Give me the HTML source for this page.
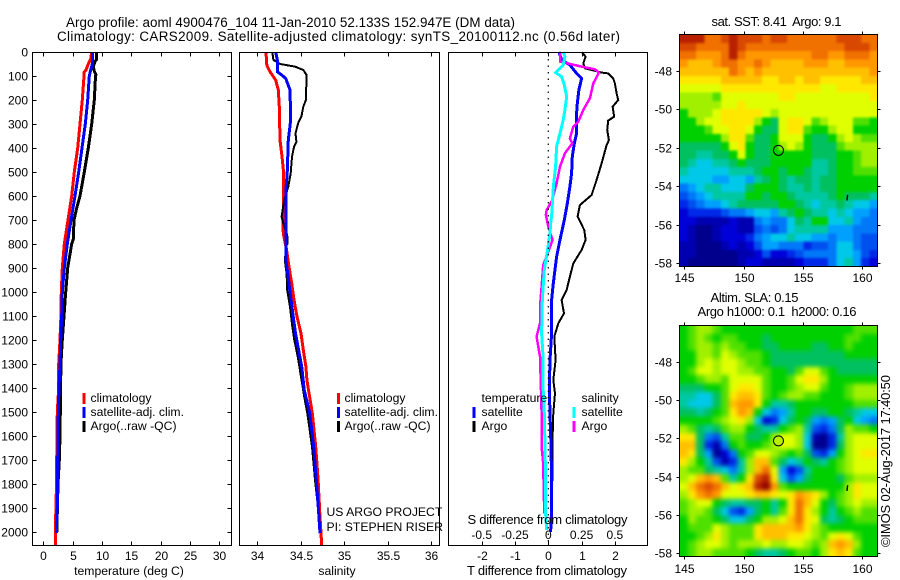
<!DOCTYPE html>
<html lang="en">
<head>
<meta charset="utf-8">
<title>Argo profile 4900476_104</title>
<style>
html,body{margin:0;padding:0;background:#fff;width:900px;height:580px;overflow:hidden}
svg{display:block}
text{font-family:"Liberation Sans",sans-serif;font-size:12px;fill:#000;white-space:pre}
text.big{font-size:13px}
text.title{font-size:13.4px}
text.leg{font-size:12.2px}
.line{fill:none;stroke-linejoin:miter;shape-rendering:crispEdges}
.crisp{shape-rendering:crispEdges}
</style>
</head>
<body>
<svg id="chart" xmlns="http://www.w3.org/2000/svg" width="900" height="580" viewBox="0 0 900 580">
<defs>
<filter id="soft-sst" filterUnits="userSpaceOnUse" x="650" y="0" width="250" height="290" color-interpolation-filters="sRGB"><feGaussianBlur stdDeviation="1.4"/></filter>
<filter id="soft-sla" filterUnits="userSpaceOnUse" x="650" y="290" width="250" height="290" color-interpolation-filters="sRGB"><feGaussianBlur stdDeviation="2.4"/></filter>
<clipPath id="clip-sst"><rect x="680" y="34" width="197" height="233"/></clipPath>
<clipPath id="clip-sla"><rect x="680" y="325" width="197" height="232"/></clipPath>
</defs>
<rect width="900" height="580" fill="#fff"/>
<text class="title" x="66" y="27" textLength="449" lengthAdjust="spacing">Argo profile: aoml 4900476_104 11-Jan-2010 52.133S 152.947E (DM data)</text>
<text class="title" x="57" y="41" textLength="563" lengthAdjust="spacing">Climatology: CARS2009. Satellite-adjusted climatology: synTS_20100112.nc (0.56d later)</text>
<g id="layer"></g>
<g>
<rect x="82.5" y="393" width="3" height="11" fill="#f00"/>
<rect x="82.5" y="407" width="3" height="11" fill="#00f"/>
<rect x="82.5" y="421" width="3" height="11" fill="#000"/>
<text class="leg" x="90.5" y="402">climatology</text>
<text class="leg" x="90.5" y="416">satellite-adj. clim.</text>
<text class="leg" x="90.5" y="430">Argo(..raw -QC)</text>
</g>
<g>
<rect x="337" y="393" width="3" height="11" fill="#f00"/>
<rect x="337" y="407" width="3" height="11" fill="#00f"/>
<rect x="337" y="421" width="3" height="11" fill="#000"/>
<text class="leg" x="344.5" y="402">climatology</text>
<text class="leg" x="344.5" y="416">satellite-adj. clim.</text>
<text class="leg" x="344.5" y="430">Argo(..raw -QC)</text>
</g>
<text class="leg" x="326.5" y="516">US ARGO PROJECT</text>
<text class="leg" x="326.5" y="531">PI: STEPHEN RISER</text>
<g>
<text class="leg" x="481.5" y="402">temperature</text>
<rect x="472.5" y="407" width="3" height="11" fill="#00f"/>
<rect x="472.5" y="421" width="3" height="11" fill="#000"/>
<text class="leg" x="481.5" y="416">satellite</text>
<text class="leg" x="481.5" y="430">Argo</text>
<text class="leg" x="581.5" y="402">salinity</text>
<rect x="572.5" y="407" width="3" height="11" fill="#0ff"/>
<rect x="572.5" y="421" width="3" height="11" fill="#f0f"/>
<text class="leg" x="581.5" y="416">satellite</text>
<text class="leg" x="581.5" y="430">Argo</text>
</g>
<text class="leg" x="129" y="575" text-anchor="middle">temperature (deg C)</text>
<text class="leg" x="337" y="575" text-anchor="middle">salinity</text>
<text class="big" x="547" y="575" text-anchor="middle" textLength="160" lengthAdjust="spacing">T difference from climatology</text>
<text class="big" x="547.5" y="524" text-anchor="middle" textLength="160" lengthAdjust="spacing">S difference from climatology</text>
<text class="big" x="711.5" y="26" textLength="130" lengthAdjust="spacing">sat. SST: 8.41  Argo: 9.1</text>
<text class="big" x="710.5" y="302" textLength="88" lengthAdjust="spacing">Altim. SLA: 0.15</text>
<text class="big" x="697.5" y="316" textLength="159" lengthAdjust="spacing">Argo h1000: 0.1  h2000: 0.16</text>
<text class="big" transform="translate(890,547) rotate(-90)" textLength="172" lengthAdjust="spacing">©IMOS 02-Aug-2017 17:40:50</text>
</svg>
<script>
// ---------- profile data ----------
const depthTicks = [0,100,200,300,400,500,600,700,800,900,1000,1100,1200,1300,1400,1500,1600,1700,1800,1900,2000];
const tempTicks = [0,5,10,15,20,25,30];
const salTicks = [34,34.5,35,35.5,36];
const salTickLabels = ['34','34.5','35','35.5','36'];
const tDiffTicks = [-2,-1,0,1,2];
const sDiffTicks = [-0.5,-0.25,0,0.25,0.5];
const sDiffTickLabels = ['-0.5','-0.25','0','0.25','0.5'];
const mapLonTicks = [145,150,155,160];
const mapLatTicks = [-48,-50,-52,-54,-56,-58];
const floatLon = 152.947;
const floatLat = -52.133;
const islandLon = 158.75;
const islandLat = -54.6;

const tempClimDepth = [0,30,50,75,85,100,200,300,400,500,600,700,800,900,1000,1100,1200,1300,1400,1500,1700,1800,2000,2054];
const tempClim = [8.24,8.07,7.67,7.27,6.93,6.93,6.65,6.25,5.86,5.28,4.84,4.2,3.58,3.24,3.07,3.0,2.85,2.62,2.62,2.39,2.28,2.25,2.05,2.05];
const tempSatDepth = [0,50,75,100,200,300,400,500,600,700,800,900,1000,1100,1200,1300,1400,1500,1700,1900,2000,2005];
const tempSat = [8.41,8.35,8.07,7.84,7.56,7.16,6.59,6.03,5.4,4.72,4.09,3.58,3.24,3.13,2.96,2.85,2.67,2.56,2.45,2.39,2.22,2.22];
const tempArgoDepth = [0,30,40,60,80,95,100,200,300,400,500,600,650,700,780,800,900,1000,1100,1200,1300,1500,1600,1700,1800,2000];
const tempArgo = [9.1,9.1,8.8,8.52,8.69,8.98,8.9,8.69,8.24,7.67,6.98,6.25,5.69,5.23,5.11,4.84,4.16,3.82,3.53,3.24,3.0,2.9,2.85,2.73,2.5,2.3];

const salClimDepth = [0,50,60,82,117,158,228,367,436,506,617,700,756,825,894,964,1033,1103,1172,1242,1311,1367,1408,1505,1644,1783,1922,2054];
const salClim = [34.1,34.108,34.115,34.146,34.212,34.242,34.253,34.261,34.285,34.304,34.304,34.295,34.3,34.338,34.365,34.396,34.423,34.457,34.503,34.53,34.56,34.572,34.59,34.634,34.673,34.7,34.72,34.742];
const salSatDepth = [0,33,82,96,110,158,283,367,506,575,700,867,922,1033,1172,1311,1408,1505,1644,1783,1922,2005];
const salSat = [34.212,34.23,34.23,34.281,34.327,34.377,34.385,34.357,34.345,34.33,34.33,34.33,34.35,34.388,34.44,34.511,34.54,34.604,34.65,34.68,34.707,34.722];
const salArgoDepth = [0,33,50,61,75,96,200,228,269,297,339,374,394,436,506,561,617,686,714,762,797,811,874,922,992,1061,1144,1200,1269,1353,1436,1505,1644,1783,1900];
const salArgo = [34.173,34.185,34.261,34.434,34.53,34.568,34.56,34.53,34.508,34.47,34.44,34.45,34.424,34.4,34.385,34.357,34.31,34.28,34.3,34.345,34.35,34.327,34.319,34.338,34.345,34.377,34.403,34.426,34.465,34.503,34.54,34.576,34.63,34.665,34.7];

const diffTArgoDepth = [0,19,47,68,86,89,110,131,172,200,228,269,286,325,367,388,464,533,596,638,686,742,783,825,881,936,992,1033,1089,1131,1186,1283,1367,1422,1505,1644,1783,1922];
const diffTArgo = [1,1.12,1.05,1.1,1.6,1.8,1.95,2,2.05,2.1,1.93,1.98,1.8,1.77,1.82,1.75,1.6,1.45,1.3,0.95,0.88,1.08,1.12,1,0.75,0.65,0.55,0.4,0.47,0.3,0.18,0.22,0.15,0.2,0.15,0.12,0.12,0.08];
const diffTSatDepth = [0,33,54,89,110,158,214,256,339,381,436,506,561,631,700,783,853,964,1033,1172,1283,1408,1505,1644,1783,1922,1999];
const diffTSat = [0.32,0.4,0.65,0.85,1,0.92,0.87,0.85,0.85,0.78,0.72,0.7,0.65,0.57,0.48,0.35,0.25,0.15,0.1,0.1,0.05,0.03,0.05,0.08,0.1,0.1,0.07];
const diffSSatDepth = [0,19,54,86,103,138,186,242,283,339,394,478,561,686,700,756,825,908,1033,1172,1283,1408,1505,1644,1783,1922,1992];
const diffSSat = [0.112,0.125,0.112,0.055,0.1,0.12,0.138,0.125,0.112,0.088,0.062,0.055,0.038,0.025,0.02,0.012,-0.005,-0.03,-0.045,-0.05,-0.038,-0.038,-0.03,-0.025,-0.02,-0.02,-0.012];
const diffSArgoDepth = [0,40,58,72,86,131,193,242,290,311,360,381,422,478,547,617,658,679,728,783,832,888,978,1061,1131,1186,1269,1408,1505,1644,1714,1797,1922];
const diffSArgo = [0.088,0.088,0.225,0.35,0.38,0.338,0.312,0.262,0.225,0.188,0.162,0.18,0.125,0.088,0.062,0.03,-0.012,-0.018,0,0.032,0,-0.038,-0.05,-0.062,-0.062,-0.088,-0.062,-0.055,-0.05,-0.05,-0.038,-0.035,-0.03];

// ---------- map data: colour-scale levels 0..20, one row per latitude band ----------
const sstLevels = [
[19,19,19,17,17,18,19,18,18,18,17,18,18,17,17,17,17,17,17,18,18,18,17,17],
[18,18,17,17,17,17,19,18,17,17,17,17,17,17,17,17,17,17,17,17,18,18,18,17],
[17,17,16,16,16,17,19,17,16,16,16,16,16,16,16,16,17,17,16,16,17,17,17,16],
[16,15,15,15,16,17,17,16,16,17,16,15,15,15,15,16,16,16,15,15,16,16,16,16],
[15,15,15,15,15,15,17,16,15,16,15,15,15,15,15,15,15,15,15,15,15,15,15,16],
[14,14,14,14,14,15,15,15,15,15,14,14,15,15,14,15,15,14,14,14,14,14,15,15],
[13,13,13,13,13,14,14,14,14,14,14,14,14,14,14,14,14,13,13,14,14,14,14,14],
[12,12,12,12,11,13,13,13,13,13,13,13,14,14,13,13,13,13,13,13,13,13,13,14],
[12,12,12,12,12,13,13,14,13,13,13,13,13,13,13,13,13,13,13,13,13,13,13,13],
[10,12,12,12,13,14,14,14,14,14,13,12,13,13,13,13,13,13,13,13,13,13,13,13],
[10,10,12,13,13,14,14,14,14,12,10,9,13,14,14,13,11,12,13,13,13,11,11,10],
[10,10,10,11,13,13,14,14,13,10,9,9,13,14,14,11,10,10,12,13,13,10,10,10],
[10,10,10,10,10,12,14,14,11,9,9,10,13,13,13,10,9,9,10,12,13,12,11,11],
[9,9,9,9,9,10,13,14,10,9,9,10,12,13,12,10,9,9,9,11,12,12,12,12],
[9,9,8,8,9,9,10,13,10,9,9,10,10,10,10,10,9,9,9,10,10,11,12,12],
[9,8,7,7,8,8,9,10,9,9,9,10,10,10,10,10,8,8,9,10,10,11,12,12],
[8,7,7,7,7,7,8,8,8,9,10,10,9,10,10,9,8,8,9,10,10,11,11,11],
[7,7,7,7,6,6,7,7,6,8,9,10,9,8,9,9,8,9,9,10,10,10,10,10],
[5,6,7,8,8,7,7,7,9,10,10,10,9,8,8,9,8,9,9,10,10,10,10,10],
[4,5,6,7,8,8,8,8,10,10,9,10,10,9,8,8,8,8,9,10,9,9,9,8],
[3,4,5,6,6,7,8,9,9,9,9,9,10,10,9,8,7,8,8,9,8,7,7,6],
[2,3,3,3,3,4,5,5,6,7,7,6,8,9,10,9,8,8,7,8,7,6,6,5],
[2,2,1,1,1,1,2,1,1,5,6,5,5,7,9,8,10,10,7,7,8,6,5,5],
[2,1,0,0,1,2,2,1,1,4,5,4,5,7,8,8,8,8,6,6,6,5,5,5],
[2,1,0,0,1,2,2,2,3,5,6,7,7,8,7,7,6,6,5,6,6,5,4,4],
[1,1,0,0,0,1,2,1,2,4,6,6,5,5,5,3,4,4,5,7,7,5,4,4],
[1,1,0,0,0,0,0,1,1,2,4,2,2,3,4,5,5,5,5,7,7,6,4,3],
[1,0,0,0,0,0,0,1,2,2,1,1,1,1,2,3,3,3,5,7,8,6,3,2]
];
const slaLevels = [
[10,11,12,12,11,10,10,10,10,10,10,10,10,10,10,10,10,10,10,10,10,11,11,11],
[10,11,12,11,10,11,11,10,10,10,9,10,10,10,10,10,10,10,10,10,11,11,10,10],
[10,11,12,12,11,12,11,11,10,10,9,9,10,10,10,10,9,9,10,10,11,10,10,10],
[10,10,12,12,11,13,12,11,11,11,10,9,9,9,9,9,9,9,9,9,10,10,10,10],
[10,10,12,13,12,13,13,12,11,11,10,9,9,9,9,9,9,9,9,9,9,9,9,9],
[10,11,13,13,12,13,13,12,12,11,11,10,10,9,11,13,13,11,10,9,9,9,9,9],
[10,10,11,12,12,11,13,13,13,13,11,10,10,11,13,14,14,12,10,10,10,10,10,10],
[9,9,9,10,10,11,13,14,14,13,11,10,10,11,12,13,13,11,10,10,11,12,12,12],
[8,8,7,7,9,11,14,15,15,14,11,10,11,12,12,11,11,10,10,10,11,12,12,12],
[8,7,7,7,9,11,15,16,16,14,10,8,8,9,10,10,10,10,10,10,10,11,11,11],
[9,9,8,9,10,11,14,16,15,10,7,5,6,8,10,10,9,9,10,10,9,8,7,7],
[10,10,10,10,11,12,13,14,12,7,2,3,7,9,10,9,6,5,6,9,10,7,6,5],
[12,11,9,8,9,11,12,12,10,9,8,8,10,11,12,8,4,3,5,9,12,11,11,10],
[14,14,9,5,4,8,11,11,9,9,10,12,13,13,12,7,1,0,3,8,12,13,13,13],
[15,15,9,3,1,5,10,11,10,10,11,12,13,13,12,7,0,0,3,9,12,13,13,13],
[15,14,9,6,0,2,5,10,11,13,13,12,11,10,11,9,4,3,6,10,12,13,14,14],
[14,12,10,8,4,1,3,8,12,15,15,11,9,7,8,10,9,8,10,11,12,13,13,13],
[12,11,11,9,8,7,5,8,12,15,17,13,6,2,4,8,10,10,10,11,12,13,13,13],
[12,13,15,16,15,11,8,10,14,18,19,14,7,4,6,9,10,10,10,9,11,12,12,12],
[13,15,17,18,17,15,13,14,15,19,20,16,11,10,10,10,10,10,10,10,12,14,13,13],
[12,14,16,17,16,13,13,13,14,15,15,14,13,14,16,15,14,12,10,11,12,14,13,13],
[11,12,13,13,10,9,8,8,9,9,10,8,10,14,17,15,13,10,9,11,12,13,12,12],
[11,12,12,11,9,7,4,3,6,9,10,8,11,14,17,14,12,10,8,10,11,12,11,11],
[10,12,11,11,10,9,7,7,9,10,12,12,13,15,17,14,13,9,8,9,10,11,11,11],
[10,11,11,11,13,12,11,11,11,14,15,15,15,15,16,14,12,11,10,10,10,10,10,10],
[10,10,11,12,14,12,11,11,11,14,15,15,15,14,14,13,12,11,13,14,13,11,10,10],
[10,11,12,13,13,12,11,12,12,12,13,12,12,13,13,12,11,12,15,16,15,12,10,10],
[10,11,12,12,11,11,11,11,10,9,8,8,9,10,11,11,10,12,14,15,14,11,10,10]
];
const colorScale = ['#00008c','#0000b0','#0000d8','#0028e8','#0050f0','#0078f8','#00a0ff','#00c8e8','#00c8a0','#00c060','#00d000','#50e000','#a0f000','#e0ff00','#ffe800','#ffc000','#ff9800','#f07000','#d84800','#b82000','#900000'];

// ---------- axis functions ----------
const depthY = d => 52 + 0.24 * d;
const tempX = t => 43.3 + 5.87 * t;
const salX = s => 257.3 + 86.8 * (s - 34);
const diffTX = v => 548.3 + 33.3 * v;
const diffSX = v => 548.3 + 133.2 * v;
const lonX = lon => 684.3 + 11.85 * (lon - 145);
const sstLatY = lat => 71 + 19.2 * (-48 - lat);
const slaLatY = lat => 361.7 + 19.15 * (-48 - lat);

// ---------- drawing helpers ----------
const NS = 'http://www.w3.org/2000/svg';
const layer = document.getElementById('layer');
function make(tag, attrs, parent) {
  const e = document.createElementNS(NS, tag);
  for (const k in attrs) e.setAttribute(k, attrs[k]);
  (parent || layer).appendChild(e);
  return e;
}
function label(str, x, y, anchor, name, parent) {
  const e = make('text', {x: x, y: y, 'text-anchor': anchor}, parent);
  e.textContent = str;
  
  
}
function tick(x1, y1, x2, y2, name, parent) {
  const e = make('line', {x1: x1, y1: y1, x2: x2, y2: y2, stroke: '#000', 'stroke-width': 1, class: 'crisp'}, parent);
  
  
}
function frame(x, y, w, h, name) {
  const e = make('rect', {x: x, y: y, width: w, height: h, fill: 'none', stroke: '#000', 'stroke-width': 1, class: 'crisp'});
  
  
}
function profile(depths, values, xFn, color, width, name, parent) {
  const pts = depths.map((d, i) => xFn(values[i]).toFixed(1) + ',' + depthY(d).toFixed(1)).join(' ');
  const e = make('polyline', {points: pts, stroke: color, 'stroke-width': width, class: 'line'}, parent);
  
  
}
function clamp(v) { return Math.max(0, Math.min(colorScale.length - 1, Math.round(v))); }
function heatmap(rows, left, right, top, bottom, clipId, filterId, name) {
  const clipGroup = make('g', {'clip-path': 'url(#' + clipId + ')'});
  
  
  const blurGroup = make('g', {filter: 'url(#' + filterId + ')'}, clipGroup);
  const nr = rows.length, nc = rows[0].length;
  const cw = (right - left) / nc, ch = (bottom - top) / nr;
  rows.forEach((row, r) => row.forEach((v, c) => {
    const x0 = c === 0 ? left - 12 : left + c * cw;
    const x1 = c === nc - 1 ? right + 12 : left + (c + 1) * cw + 0.5;
    const y0 = r === 0 ? top - 12 : top + r * ch;
    const y1 = r === nr - 1 ? bottom + 12 : top + (r + 1) * ch + 0.5;
    const cell = make('rect', {x: x0.toFixed(1), y: y0.toFixed(1), width: (x1 - x0).toFixed(1), height: (y1 - y0).toFixed(1), fill: colorScale[clamp(v)], class: 'crisp'}, blurGroup);
    
    
  }));
}

// ---------- temperature panel ----------
const T = {l: 32.5, r: 231.5, t: 52.5, b: 545.5};
depthTicks.forEach(d => {
  const y = Math.round(depthY(d)) + 0.5;
  tick(T.l, y, T.l + 4, y, 'depth-tick-left');
  tick(T.r - 4, y, T.r, y, 'depth-tick-right');
  label(String(d), 28, y + 4, 'end', 'depth-tick-label');
});
tempTicks.forEach(t => {
  const x = Math.round(tempX(t)) + 0.5;
  tick(x, T.t, x, T.t + 4, 'temperature-tick-top');
  tick(x, T.b - 4, x, T.b, 'temperature-tick-bottom');
  label(String(t), x, 560, 'middle', 'temperature-tick-label');
});
profile(tempClimDepth, tempClim, tempX, '#f00', 3, 'temperature-climatology-line');
profile(tempArgoDepth, tempArgo, tempX, '#000', 3, 'temperature-argo-line');
profile(tempSatDepth, tempSat, tempX, '#00f', 3, 'temperature-satellite-line');
frame(T.l, T.t, T.r - T.l, T.b - T.t, 'temperature-plot-frame');

// ---------- salinity panel ----------
const S = {l: 239.5, r: 439.5, t: 52.5, b: 545.5};
salTicks.forEach((s, i) => {
  const x = Math.round(salX(s)) + 0.5;
  tick(x, S.t, x, S.t + 4, 'salinity-tick-top');
  tick(x, S.b - 4, x, S.b, 'salinity-tick-bottom');
  label(salTickLabels[i], x, 560, 'middle', 'salinity-tick-label');
});
profile(salClimDepth, salClim, salX, '#f00', 3, 'salinity-climatology-line');
profile(salArgoDepth, salArgo, salX, '#000', 2, 'salinity-argo-line');
profile(salSatDepth, salSat, salX, '#00f', 3, 'salinity-satellite-line');
frame(S.l, S.t, S.r - S.l, S.b - S.t, 'salinity-plot-frame');

// ---------- difference panel ----------
const D = {l: 448.5, r: 647.5, t: 52.5, b: 545.5};
tDiffTicks.forEach(v => {
  const x = Math.round(diffTX(v)) + 0.5;
  tick(x, D.t, x, D.t + 4, 'difference-tick-top');
  tick(x, D.b - 4, x, D.b, 'difference-tick-bottom');
  label(String(v), x, 560, 'middle', 't-difference-tick-label');
});
sDiffTicks.forEach((v, i) => {
  label(sDiffTickLabels[i], diffSX(v), 539, 'middle', 's-difference-tick-label');
});
profile(diffTArgoDepth, diffTArgo, diffTX, '#000', 2, 't-difference-argo-line');
profile(diffTSatDepth, diffTSat, diffTX, '#00f', 3, 't-difference-satellite-line');
profile(diffSArgoDepth, diffSArgo, diffSX, '#f0f', 2.5, 's-difference-argo-line');
profile(diffSSatDepth, diffSSat, diffSX, '#0ff', 3, 's-difference-satellite-line');
const zeroLine = make('line', {x1: diffTX(0), y1: D.t, x2: diffTX(0), y2: D.b, stroke: '#000', 'stroke-width': 1.2, 'stroke-dasharray': '1.5 5'});


frame(D.l, D.t, D.r - D.l, D.b - D.t, 'difference-plot-frame');

// ---------- maps ----------
function mapPanel(rows, top, bottom, latY, clipId, filterId, prefix, labelY, markerFill) {
  const left = 679.5, right = 877.5;
  heatmap(rows, left, right, top, bottom, clipId, filterId, prefix + '-heatmap');
  mapLonTicks.forEach(lon => {
    const x = Math.round(lonX(lon)) + 0.5;
    tick(x, top - 3, x, top, prefix + '-lon-tick-top');
    tick(x, bottom, x, bottom + 3, prefix + '-lon-tick-bottom');
    label(String(lon), x, labelY, 'middle', prefix + '-lon-label');
  });
  mapLatTicks.forEach(lat => {
    const y = Math.round(latY(lat)) + 0.5;
    tick(left - 3, y, left, y, prefix + '-lat-tick-left');
    tick(right, y, right + 3, y, prefix + '-lat-tick-right');
    label(String(lat), 672, y + 4, 'end', prefix + '-lat-label');
  });
  frame(left, top, right - left, bottom - top, prefix + '-map-frame');
  const marker = make('circle', {cx: lonX(floatLon), cy: latY(floatLat), r: 5, fill: markerFill, stroke: '#000', 'stroke-width': 1});
  
  
  const mark = make('line', {x1: lonX(islandLon) + 0.4, y1: latY(islandLat + 0.15), x2: lonX(islandLon) - 0.3, y2: latY(islandLat - 0.15), stroke: '#000', 'stroke-width': 1.4});
  
  
}
mapPanel(sstLevels, 34.5, 266.5, sstLatY, 'clip-sst', 'soft-sst', 'sst', 282, 'none');
mapPanel(slaLevels, 325.5, 556.5, slaLatY, 'clip-sla', 'soft-sla', 'sla', 573, '#b8f000');
</script>
</body>
</html>
